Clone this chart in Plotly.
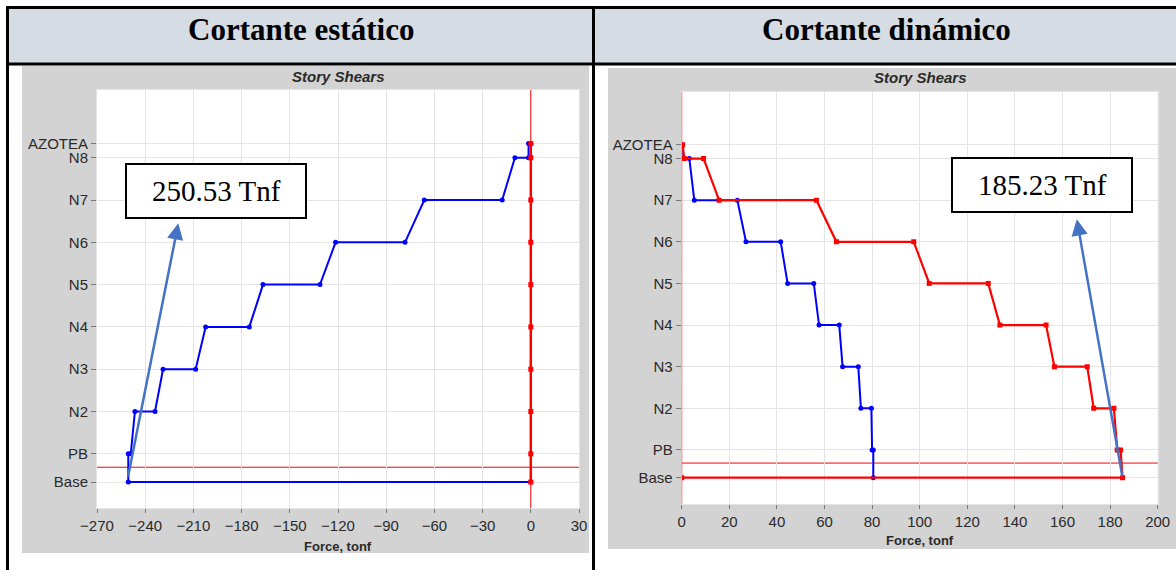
import plotly.graph_objects as go

# ---------------- data ----------------
levels = ["Base", "PB", "N2", "N3", "N4", "N5", "N6", "N7", "N8", "AZOTEA"]
elevations = [0, 2, 5, 8, 11, 14, 17, 20, 23, 24]  # m

# Static shear (X direction, blue)
static_x_levels = ["AZOTEA", "AZOTEA", "N8", "N8", "N7", "N7", "N6", "N6", "N5", "N5",
                   "N4", "N4", "N3", "N3", "N2", "N2", "PB", "PB", "Base", "Base"]
static_x_shear = [0, -1.4, -1.4, -9.9, -17.8, -66.3, -78.3, -121.5, -131.2, -166.7,
                  -175.2, -202.4, -208.6, -228.9, -233.9, -246.4, -249.0, -250.53, -250.53, 0]

# Static shear (Y direction, red)
static_y_levels = ["AZOTEA", "N8", "N7", "N6", "N5", "N4", "N3", "N2", "PB", "Base"]
static_y_shear = [0, 0, 0, 0, 0, 0, 0, 0, 0, 0]

# Dynamic shear (blue)
dyn_x_levels = ["AZOTEA", "N8", "N8", "N7", "N7", "N6", "N6", "N5", "N5", "N4", "N4",
                "N3", "N3", "N2", "N2", "PB", "PB", "Base"]
dyn_x_shear = [0, 0, 3.2, 5.3, 23.4, 27.0, 41.6, 44.5, 55.5, 57.7, 66.2,
               67.6, 74.2, 75.3, 79.7, 80.0, 80.5, 80.5]

# Dynamic shear (red)
dyn_y_levels = ["AZOTEA", "N8", "N8", "N7", "N7", "N6", "N6", "N5", "N5", "N4", "N4",
                "N3", "N3", "N2", "N2", "PB", "PB", "Base", "Base"]
dyn_y_shear = [0.4, 1.1, 9.2, 15.7, 56.6, 65.0, 97.5, 104.0, 128.8, 133.7, 153.1,
               156.6, 170.4, 173.1, 181.6, 183.0, 184.4, 185.23, 0]

ref_line_elev = 1.05

static_ticks = [-270, -240, -210, -180, -150, -120, -90, -60, -30, 0, 30]
dyn_ticks = [0, 20, 40, 60, 80, 100, 120, 140, 160, 180, 200]

headers = ["Cortante estático", "Cortante dinámico"]
static_label = "250.53 Tnf"
dyn_label = "185.23 Tnf"
static_arrow_head = (-219.4, 18.35)
static_arrow_tail = (-250.8, 0.3)
dyn_arrow_head = (166.0, 18.63)
dyn_arrow_tail = (185.23, 0.0)

# ---------------- helpers ----------------
W, H = 1176, 570
def px(x):
    return x / W
def py(y):
    return 1 - y / H

elev_of = dict(zip(levels, elevations))
def to_elev(lv):
    return [elev_of[l] for l in lv]

BLUE = "#0000FF"
RED = "#FF0000"
SANS = "Liberation Sans, Arial, sans-serif"
TICKFONT = dict(family=SANS, size=15, color="#2A2A2A")
GRID = "#E4E4E4"

fig = go.Figure()

fig.add_trace(go.Scatter(x=static_x_shear, y=to_elev(static_x_levels), mode="lines+markers",
                         line=dict(color=BLUE, width=2), marker=dict(size=5, color=BLUE),
                         xaxis="x", yaxis="y", name="Static X"))
fig.add_trace(go.Scatter(x=static_y_shear, y=to_elev(static_y_levels), mode="lines+markers",
                         line=dict(color=RED, width=2.5), marker=dict(size=5, color=RED, symbol="square"),
                         xaxis="x", yaxis="y", name="Static Y"))
fig.add_trace(go.Scatter(x=dyn_x_shear, y=to_elev(dyn_x_levels), mode="lines+markers",
                         line=dict(color=BLUE, width=2), marker=dict(size=5, color=BLUE),
                         xaxis="x2", yaxis="y2", name="Dyn X"))
fig.add_trace(go.Scatter(x=dyn_y_shear, y=to_elev(dyn_y_levels), mode="lines+markers",
                         line=dict(color=RED, width=2.2), marker=dict(size=5, color=RED, symbol="square"),
                         xaxis="x2", yaxis="y2", name="Dyn Y"))

axis_common = dict(showgrid=True, gridcolor=GRID, gridwidth=1, zeroline=False,
                   showline=True, linecolor=GRID, mirror=True, ticks="outside",
                   tickcolor="#777777", tickfont=TICKFONT, automargin=False, fixedrange=True)

fig.update_layout(
    width=W, height=H, margin=dict(l=0, r=0, t=0, b=0),
    paper_bgcolor="white", plot_bgcolor="white", showlegend=False,
    xaxis=dict(domain=[px(97), px(579)], range=[-270, 30], tickvals=static_ticks,
               ticklen=4, anchor="y", **axis_common),
    yaxis=dict(domain=[py(508), py(90)], range=[-1.84, 27.8], tickvals=elevations,
               ticktext=levels, ticklen=5, anchor="x", **axis_common),
    xaxis2=dict(domain=[px(681.7), px(1157.7)], range=[0, 200], tickvals=dyn_ticks,
                ticklen=4, anchor="y2", **axis_common),
    yaxis2=dict(domain=[py(504), py(92)], range=[-1.90, 27.8], tickvals=elevations,
                ticktext=levels, ticklen=5, anchor="x2", **axis_common),
)

shapes = []
# header fills
shapes.append(dict(type="rect", xref="paper", yref="paper", x0=px(8), x1=px(593), y0=py(64), y1=py(7),
                   fillcolor="#D5DCE4", line=dict(width=0), layer="below"))
shapes.append(dict(type="rect", xref="paper", yref="paper", x0=px(593), x1=1, y0=py(64), y1=py(7),
                   fillcolor="#D5DCE4", line=dict(width=0), layer="below"))
# chart grey backgrounds
shapes.append(dict(type="rect", xref="paper", yref="paper", x0=px(22), x1=px(589), y0=py(553), y1=py(66),
                   fillcolor="#D3D3D3", line=dict(width=0), layer="below"))
shapes.append(dict(type="rect", xref="paper", yref="paper", x0=px(608), x1=1, y0=py(549), y1=py(68),
                   fillcolor="#D3D3D3", line=dict(width=0), layer="below"))
# white plot areas
shapes.append(dict(type="rect", xref="paper", yref="paper", x0=px(97), x1=px(579), y0=py(508), y1=py(90),
                   fillcolor="white", line=dict(width=0), layer="below"))
shapes.append(dict(type="rect", xref="paper", yref="paper", x0=px(681.7), x1=px(1157.7), y0=py(504), y1=py(92),
                   fillcolor="white", line=dict(width=0), layer="below"))
# red reference lines
for xr, yr in (("x", "y"), ("x2", "y2")):
    shapes.append(dict(type="line", xref=xr, yref=yr + " domain", x0=0, x1=0, y0=0, y1=1,
                       line=dict(color=RED, width=1), layer="above"))
    shapes.append(dict(type="line", xref=xr + " domain", yref=yr, x0=0, x1=1,
                       y0=ref_line_elev, y1=ref_line_elev,
                       line=dict(color=RED, width=1), layer="below"))
# table borders
B = dict(color="black", width=3)
shapes.append(dict(type="line", xref="paper", yref="paper", x0=px(6), x1=1, y0=py(7.5), y1=py(7.5), line=B))
shapes.append(dict(type="line", xref="paper", yref="paper", x0=px(6), x1=1, y0=py(64), y1=py(64), line=B))
shapes.append(dict(type="line", xref="paper", yref="paper", x0=px(7.5), x1=px(7.5), y0=0, y1=py(6), line=B))
shapes.append(dict(type="line", xref="paper", yref="paper", x0=px(593.5), x1=px(593.5), y0=0, y1=py(6), line=B))
# text boxes
shapes.append(dict(type="rect", xref="paper", yref="paper", x0=px(126), x1=px(306), y0=py(218), y1=py(164),
                   fillcolor="white", line=dict(color="black", width=2), layer="above"))
shapes.append(dict(type="rect", xref="paper", yref="paper", x0=px(952), x1=px(1132), y0=py(212), y1=py(158),
                   fillcolor="white", line=dict(color="black", width=2), layer="above"))
fig.update_layout(shapes=shapes)

ann = []
SERIF = "Liberation Serif, Times New Roman, serif"
def txt(cx, cy, text, font):
    return dict(xref="paper", yref="paper", x=px(cx), y=py(cy), text=text, showarrow=False,
                xanchor="center", yanchor="middle", font=font)

ann.append(txt(301, 30, "<b>" + headers[0] + "</b>", dict(family=SERIF, size=31, color="black")))
ann.append(txt(886, 30, "<b>" + headers[1] + "</b>", dict(family=SERIF, size=31, color="black")))
for cx, cy in ((338, 77), (920, 78)):
    ann.append(txt(cx, cy, "<b><i>Story Shears</i></b>", dict(family=SANS, size=15, color="#2A2A2A")))
for cx, cy in ((338, 546), (920, 540)):
    ann.append(txt(cx, cy, "<b>Force, tonf</b>", dict(family=SANS, size=13, color="#2A2A2A")))
ann.append(txt(216, 191, static_label, dict(family=SERIF, size=29, color="black")))
ann.append(txt(1042, 185, dyn_label, dict(family=SERIF, size=29, color="black")))
# arrows
ann.append(dict(xref="x", yref="y", axref="x", ayref="y", x=static_arrow_head[0], y=static_arrow_head[1],
                ax=static_arrow_tail[0], ay=static_arrow_tail[1], text="", showarrow=True,
                arrowhead=2, arrowsize=1.3, arrowwidth=2.5, arrowcolor="#4472C4"))
ann.append(dict(xref="x2", yref="y2", axref="x2", ayref="y2", x=dyn_arrow_head[0], y=dyn_arrow_head[1],
                ax=dyn_arrow_tail[0], ay=dyn_arrow_tail[1], text="", showarrow=True,
                arrowhead=2, arrowsize=1.3, arrowwidth=2.5, arrowcolor="#4472C4"))
fig.update_layout(annotations=ann)

fig.write_html("out.html", config={"displayModeBar": False},
               post_script="document.body.style.margin='0px';document.body.style.overflow='hidden';")
